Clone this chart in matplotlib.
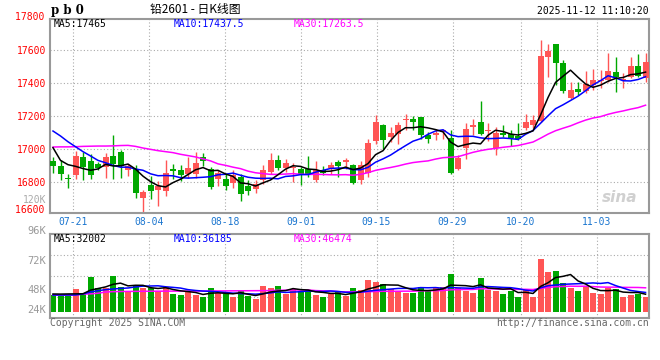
import numpy as np
import pandas as pd
import matplotlib
matplotlib.use('Agg')
import matplotlib.pyplot as plt

# values (pb0 lead futures, daily K line)
x_labels = ['07-21', '08-04', '08-18', '09-01', '09-15', '09-29', '10-20', '11-03']
x_label_idx = [3, 13, 23, 33, 43, 53, 62, 72]

open_px = [16930, 16899, 16826, 16844, 16954, 16929, 16913, 16891, 16962, 16984,
           16873, 16883, 16707, 16782, 16752, 16747, 16881, 16875, 16848, 16853,
           16952, 16883, 16818, 16818, 16796, 16830, 16776, 16762, 16816, 16865,
           16933, 16887, 16887, 16879, 16879, 16814, 16873, 16889, 16923, 16923,
           16903, 16816, 16859, 17048, 17150, 17075, 17091, 17178, 17184, 17194,
           17089, 17085, 17105, 17069, 16883, 17008, 17137, 17166, 17110, 17008,
           17097, 17093, 17081, 17131, 17148, 17174, 17562, 17638, 17523, 17313,
           17366, 17354, 17390, 17416, 17420, 17469, 17420, 17440, 17507, 17434]
high_px = [16952, 16933, 16853, 16990, 16986, 16970, 16925, 16978, 17087, 16994,
           16913, 16903, 16754, 16838, 16808, 16935, 16909, 16905, 16956, 16984,
           16980, 16893, 16877, 16848, 16873, 16848, 16812, 16812, 16903, 16978,
           16964, 16943, 16917, 16893, 16960, 16927, 16899, 16923, 16937, 16950,
           16913, 16927, 17065, 17206, 17156, 17135, 17166, 17216, 17202, 17194,
           17105, 17125, 17125, 17115, 16964, 17162, 17186, 17291, 17157, 17135,
           17148, 17117, 17158, 17212, 17208, 17663, 17638, 17638, 17541, 17410,
           17410, 17477, 17485, 17481, 17582, 17558, 17465, 17562, 17578, 17586]
low_px = [16855, 16812, 16768, 16818, 16812, 16818, 16873, 16824, 16818, 16828,
          16840, 16707, 16616, 16697, 16657, 16717, 16818, 16808, 16824, 16824,
          16897, 16758, 16776, 16752, 16768, 16687, 16721, 16735, 16788, 16853,
          16873, 16863, 16802, 16786, 16832, 16802, 16842, 16853, 16832, 16883,
          16792, 16792, 16832, 17034, 17004, 17044, 17034, 17115, 17115, 17061,
          17040, 17055, 17061, 16853, 16873, 16943, 17085, 17085, 17050, 16964,
          17073, 17022, 17057, 17117, 17127, 17168, 17440, 17390, 17339, 17305,
          17329, 17339, 17360, 17370, 17410, 17350, 17370, 17430, 17440, 17410]
close_px = [16898, 16849, 16818, 16960, 16893, 16846, 16889, 16956, 16913, 16897,
            16899, 16737, 16741, 16747, 16776, 16859, 16869, 16844, 16889, 16919,
            16927, 16772, 16857, 16778, 16846, 16729, 16748, 16788, 16873, 16933,
            16889, 16917, 16891, 16853, 16853, 16873, 16857, 16903, 16897, 16933,
            16796, 16903, 17040, 17166, 17055, 17101, 17150, 17184, 17166, 17085,
            17065, 17099, 17115, 16857, 16948, 17125, 17145, 17091, 17118, 17100,
            17087, 17067, 17063, 17166, 17178, 17566, 17598, 17521, 17354, 17360,
            17350, 17396, 17420, 17420, 17477, 17436, 17424, 17507, 17444, 17529]
vol_k = [34.1, 32.0, 32.0, 46.5, 38.9, 71.3, 48.6, 48.6, 73.3, 51.3,
         43.0, 54.8, 47.9, 49.2, 43.0, 51.3, 36.2, 34.1, 41.0, 34.1,
         30.6, 48.6, 38.9, 35.5, 29.3, 42.4, 32.0, 25.8, 52.7, 48.6,
         52.7, 36.2, 46.5, 42.4, 44.4, 34.1, 30.0, 36.2, 42.4, 32.0,
         48.6, 44.4, 65.1, 61.0, 56.8, 46.5, 43.0, 38.9, 38.9, 50.6,
         45.1, 48.6, 50.6, 77.5, 47.9, 42.4, 38.9, 69.2, 44.4, 42.4,
         36.2, 43.0, 30.0, 46.5, 30.6, 108.5, 81.6, 83.7, 58.9, 49.2,
         42.4, 49.9, 38.9, 36.2, 47.9, 47.2, 30.6, 34.1, 36.2, 30.6]

# moving-average values before the window has enough days
ma5_head = [17010, 16933, 16907, 16897]
ma10_head = [17111, 17081, 17046, 17016, 16986, 16960, 16933, 16919, 16903]
ma30_head = [17014, 17015, 17015, 17016, 17018, 17019, 17020, 17020, 17021, 17023,
             17024, 17018, 17008, 17000, 16992, 16986, 16980, 16970, 16962, 16954,
             16942, 16930, 16912, 16903, 16892, 16883, 16868, 16858, 16853]
vma5_head = [36.2, 36.0, 36.3, 36.5]
vma10_head = [34.1, 34.1, 34.1, 34.2, 36.2, 40.3, 43.0, 45.1, 46.5]
vma30_head = [34.1, 34.1, 34.2, 34.3, 36.0, 36.4, 37.8, 40.2, 41.0, 41.3,
              41.5, 41.6, 41.8, 41.9, 42.0, 42.0, 42.1, 42.1, 42.2, 42.3,
              42.3, 42.4, 42.5, 42.6, 42.7, 42.8, 42.9, 43.0, 43.1]

price_ticks = [16800, 17000, 17200, 17400, 17600]
vol_labels = ['96K', '72K', '48K', '24K']

main_ma_text = ['MA5:17465', 'MA10:17437.5', 'MA30:17263.5']
vol_ma_text = ['MA5:32002', 'MA10:36185', 'MA30:46474']

W, H = 660, 360
RED = '#ff5555'
GREEN = '#00a800'
MONO = 'DejaVu Sans Mono'


def fx(px):
    return px / W


def fy(py):
    return 1 - py / H


def moving_avg(values, n, head):
    s = pd.Series(values, dtype=float).rolling(n).mean()
    s.iloc[:len(head)] = head
    return s.values


x = np.arange(len(close_px))
o = np.array(open_px, dtype=float)
c = np.array(close_px, dtype=float)
colors = [RED if cc >= oo else GREEN for oo, cc in zip(o, c)]
grid_x = [i * 1.0125 - 0.4 for i in x_label_idx]

ma5 = moving_avg(close_px, 5, ma5_head)
ma10 = moving_avg(close_px, 10, ma10_head)
ma30 = moving_avg(close_px, 30, ma30_head)
vma5 = moving_avg(vol_k, 5, vma5_head)
vma10 = moving_avg(vol_k, 10, vma10_head)
vma30 = moving_avg(vol_k, 30, vma30_head)

fig = plt.figure(figsize=(W / 100, H / 100), dpi=100)
fig.patch.set_facecolor('white')

# ---------- price panel ----------
ax = fig.add_axes([fx(50), fy(212.7), fx(599.3), (212.7 - 19) / H])
ax.set_xlim(-0.4, 79.5)
ax.set_ylim(16616, 17790)

body_bottom = np.minimum(o, c)
body_h = np.maximum(np.abs(c - o), 6)
ax.vlines(x, low_px, high_px, colors=colors, lw=1.0, zorder=2)
ax.bar(x, body_h, bottom=body_bottom, width=0.8, color=colors, lw=0, zorder=3)

ax.plot(x, ma30, color='#ff00ff', lw=1.1, zorder=4)
ax.plot(x, ma10, color='#0000ff', lw=1.1, zorder=5)
ax.plot(x, ma5, color='black', lw=1.1, zorder=6)

ax.set_yticks(price_ticks)
ax.set_yticklabels([str(t) for t in price_ticks], family=MONO, fontsize=7, color='#ff0000')
ax.set_xticks(grid_x)
ax.set_xticklabels(x_labels, family=MONO, fontsize=7, color='#1a75cf')
ax.tick_params(axis='both', length=0)
ax.tick_params(axis='y', pad=3)
ax.tick_params(axis='x', pad=3)
ax.grid(True, linestyle=(0, (1, 2)), color='#aaaaaa', lw=0.8, zorder=0)
for sp in ax.spines.values():
    sp.set_color('#999999')
    sp.set_linewidth(1.5)

ax.text(-0.4, 17800, '17800 ', transform=ax.transData, ha='right', va='center',
        family=MONO, fontsize=7, color='#ff0000', clip_on=False)
ax.text(-0.4, 16600, '16600 ', ha='right', va='bottom',
        family=MONO, fontsize=7, color='#ff0000', clip_on=False)
fig.text(fx(46), fy(200), '120K', ha='right', va='center', family=MONO,
         fontsize=7, color='#aaaaaa')

ma_cols = ['black', '#0000ff', '#ff00ff']
for txt, col, px in zip(main_ma_text, ma_cols, [54, 174, 294]):
    fig.text(fx(px), fy(24), txt, ha='left', va='center', family=MONO,
             fontsize=7, color=col)

fig.text(fx(620), fy(197), 'sina', ha='center', va='center', fontsize=11,
         style='italic', weight='bold', color='#d0d0d0', family='DejaVu Sans')

# ---------- volume panel ----------
axv = fig.add_axes([fx(50), fy(317.7), fx(599.3), (317.7 - 234.3) / H])
axv.set_xlim(-0.4, 79.5)
v_lo, v_hi = -12.8, 159.5
axv.set_ylim(v_lo, v_hi)
axv.bar(x, vol_k, width=0.8, color=colors, lw=0, zorder=2)
axv.plot(x, vma30, color='#ff00ff', lw=1.1, zorder=4)
axv.plot(x, vma10, color='#0000ff', lw=1.1, zorder=5)
axv.plot(x, vma5, color='black', lw=1.1, zorder=6)
axv.set_xticks(grid_x)
axv.set_xticklabels([])
axv.set_yticks([v_lo + (v_hi - v_lo) * f for f in (0.25, 0.5, 0.75)])
axv.set_yticklabels([])
axv.tick_params(axis='both', length=0)
axv.grid(True, linestyle=(0, (1, 2)), color='#aaaaaa', lw=0.8, zorder=0)
for sp in axv.spines.values():
    sp.set_color('#999999')
    sp.set_linewidth(1.5)

for lab, py in zip(vol_labels, [231, 260.5, 290, 310]):
    fig.text(fx(46), fy(py), lab, ha='right', va='center', family=MONO,
             fontsize=7.5, color='#999999')
for txt, col, px in zip(vol_ma_text, ma_cols, [54, 174, 294]):
    fig.text(fx(px), fy(238.5), txt, ha='left', va='center', family=MONO,
             fontsize=7, color=col)

# ---------- header / footer ----------
fig.text(fx(51), fy(10.5), 'p b 0', ha='left', va='center', family='DejaVu Serif',
         fontsize=8.5, weight='bold', color='black')
fig.text(fx(195), fy(10), '铅2601 - 日K线图', ha='center', va='center',
         family=['Noto Sans CJK SC', 'DejaVu Sans'], fontsize=8.5, color='black')
fig.text(fx(649), fy(11), '2025-11-12 11:10:20', ha='right', va='center',
         family=MONO, fontsize=7, color='black')
fig.text(fx(50), fy(323), 'Copyright 2025 SINA.COM', ha='left', va='center',
         family=MONO, fontsize=7, color='#666666')
fig.text(fx(649), fy(323), 'http://finance.sina.com.cn', ha='right', va='center',
         family=MONO, fontsize=7, color='#666666')

fig.savefig('out.png', dpi=100)
